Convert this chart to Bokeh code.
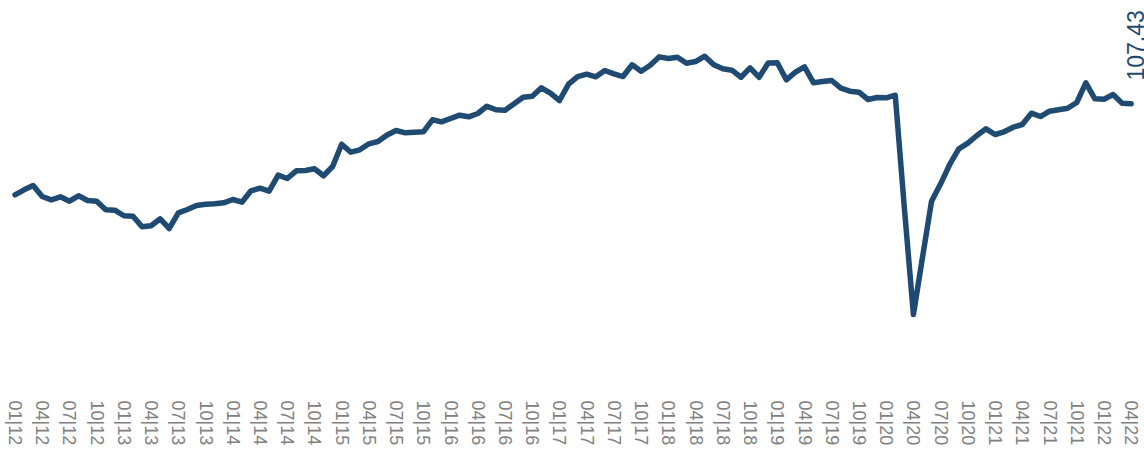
from bokeh.plotting import figure
from bokeh.models import Range1d, FixedTicker, Label, ColumnDataSource
from bokeh.embed import file_html
from bokeh.resources import INLINE

# Monthly index values, 01/2012 .. 04/2022 (124 months)
values = [
    86.32, 87.48, 88.48, 85.92, 85.16, 85.85, 84.83, 86.09, 85.00, 84.83, 82.84, 82.75,  # 2012
    81.45, 81.35, 78.89, 79.13, 80.75, 78.50, 82.14, 82.91, 83.84, 84.14, 84.23, 84.46,  # 2013
    85.23, 84.60, 87.25, 87.85, 87.15, 90.87, 90.10, 91.89, 91.96, 92.35, 90.73, 92.88,  # 2014
    98.06, 96.20, 96.76, 98.15, 98.68, 100.19, 101.24, 100.70, 100.84, 100.93, 103.72, 103.25,  # 2015
    104.02, 104.79, 104.41, 105.18, 106.87, 106.04, 105.95, 107.43, 108.96, 109.19, 111.14, 109.89,  # 2016
    108.20, 111.98, 113.72, 114.30, 113.69, 115.16, 114.39, 113.76, 116.48, 114.99, 116.39, 118.33,  # 2017
    117.94, 118.24, 116.85, 117.24, 118.47, 116.48, 115.55, 115.23, 113.60, 115.78, 113.60, 116.90,  # 2018
    116.94, 113.00, 114.76, 116.01, 112.30, 112.60, 112.84, 111.05, 110.35, 110.12, 108.43, 108.89,  # 2019
    108.82, 109.43, 83.37, 58.55, 71.77, 84.83, 88.87, 93.35, 96.99, 98.29, 100.08, 101.63,  # 2020
    100.31, 100.93, 102.00, 102.63, 105.25, 104.48, 105.71, 106.04, 106.41, 107.73, 112.30, 108.59,  # 2021
    108.50, 109.59, 107.57, 107.43,  # 2022
]

tick_labels = [
    "01|12", "04|12", "07|12", "10|12",
    "01|13", "04|13", "07|13", "10|13",
    "01|14", "04|14", "07|14", "10|14",
    "01|15", "04|15", "07|15", "10|15",
    "01|16", "04|16", "07|16", "10|16",
    "01|17", "04|17", "07|17", "10|17",
    "01|18", "04|18", "07|18", "10|18",
    "01|19", "04|19", "07|19", "10|19",
    "01|20", "04|20", "07|20", "10|20",
    "01|21", "04|21", "07|21", "10|21",
    "01|22", "04|22",
]

LINE = "#1f4b72"

idx = list(range(len(values)))
tick_pos = idx[::3]
source = ColumnDataSource(dict(x=idx, y=values))

p = figure(width=1144, height=454, output_backend="svg", toolbar_location=None,
           x_range=Range1d(-1.598, 124.466), y_range=Range1d(39.52, 131.40),
           y_axis_location=None, min_border=0, min_border_bottom=58,
           outline_line_color=None)
p.background_fill_color = None
p.border_fill_color = None
p.grid.visible = False

p.line("x", "y", source=source, line_color=LINE, line_width=5.5,
       line_join="round", line_cap="round")

ax = p.xaxis[0]
ax.ticker = FixedTicker(ticks=tick_pos)
ax.major_label_overrides = {t: lab for t, lab in zip(tick_pos, tick_labels)}
ax.major_label_orientation = "vertical"
ax.axis_line_color = None
ax.major_tick_line_color = None
ax.minor_tick_line_color = None
ax.major_tick_out = 0
ax.major_tick_in = 0
ax.major_label_standoff = 4
ax.major_label_text_font = "Liberation Sans"
ax.major_label_text_font_size = "18px"
ax.major_label_text_color = "#808080"

last = Label(x=idx[-1], y=values[-1], text=f"{values[-1]:.2f}",
             angle=1.5708, x_offset=13, y_offset=23.3,
             text_align="left", text_baseline="bottom",
             text_font="Liberation Sans", text_font_size="23px", text_color=LINE)
p.add_layout(last)

open("out.html", "w").write(file_html(p, INLINE))
